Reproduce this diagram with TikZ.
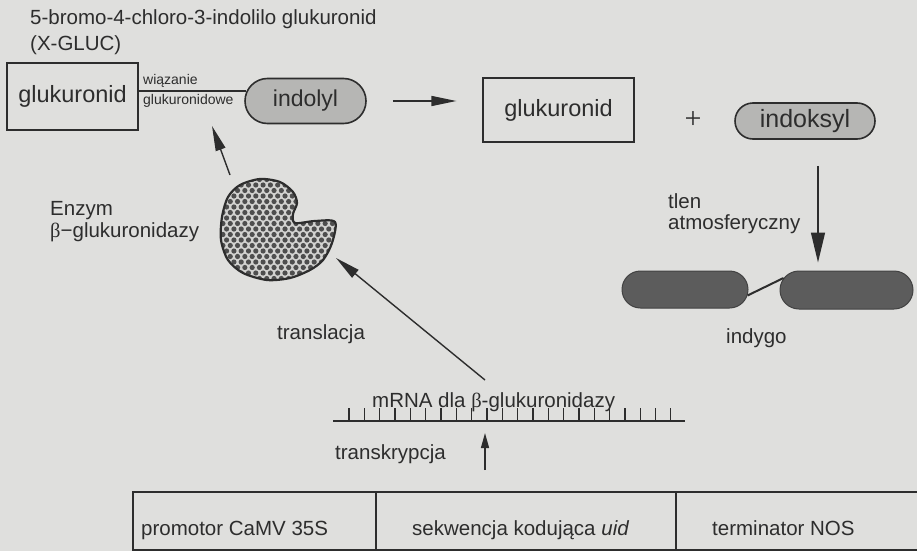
\documentclass[tikz,border=0pt]{standalone}
\usepackage{fontspec}
\setmainfont{Liberation Sans}
\newfontfamily\greekserif{Liberation Serif}
\usetikzlibrary{arrows.meta,shapes.misc,calc}

\definecolor{paper}{RGB}{223,223,221}
\definecolor{ink}{RGB}{45,45,45}
\definecolor{capsulefill}{RGB}{182,182,180}
\definecolor{indigofill}{RGB}{92,92,92}
\definecolor{enzymebg}{RGB}{210,210,208}
\definecolor{enzymeball}{RGB}{78,78,78}

\newcommand\betaglyph{{\greekserif β}}

\begin{document}
\begin{tikzpicture}[x=1pt,y=-1pt,
  every node/.style={text=ink, inner sep=0pt},
  lbl/.style={font=\fontsize{20.5}{24}\selectfont},
  small/.style={font=\fontsize{14}{16}\selectfont},
  boxlbl/.style={draw=ink, line width=1.2pt, font=\fontsize{23.5}{27}\selectfont},
  capsule/.style={rounded rectangle, draw=ink, line width=1.6pt, fill=capsulefill,
                  font=\fontsize{23}{27}\selectfont},
  indigo/.style={rounded rectangle, draw=ink!90, line width=1pt, fill=indigofill},
  cell/.style={draw=ink, line width=1.2pt, minimum height=58pt},
  arr/.style={draw=ink, line width=1.4pt, -{Triangle[length=25pt,width=10pt]}},
  arrdown/.style={draw=ink, line width=1.4pt, -{Triangle[length=30pt,width=14pt]}},
  arrsmall/.style={draw=ink, line width=1.4pt, -{Triangle[length=15pt,width=8pt]}},
  thinline/.style={draw=ink, line width=1.2pt}
]
\useasboundingbox (0,0) rectangle (917,551);
\fill[paper] (0,0) rectangle (917,551);
\clip (0,0) rectangle (917,551);

% substrate X-GLUC
\node[lbl, anchor=base west] (title) at (30,25) {5-bromo-4-chloro-3-indolilo glukuronid};
\node[lbl, anchor=base west] (xgluc) at (30,50) {(X-GLUC)};
\node[boxlbl, minimum width=131pt, minimum height=67pt] (glucA) at (72.5,96.5) {glukuronid};
\node[capsule, minimum width=121pt, minimum height=45pt] (indolyl) at (305.5,101) {indolyl};
\coordinate (bondrow) at (0,91);
\draw[thinline] (glucA.east |- bondrow) -- ($(indolyl.west |- bondrow)+(2,0)$);
\node[small, anchor=base west] (wiaz) at (143,84) {wiązanie};
\node[small, anchor=base west] (glucbond) at (143,104) {glukuronidowe};

% products of hydrolysis
\node[boxlbl, minimum width=151pt, minimum height=64pt] (glucB) at (558.5,110) {glukuronid};
\draw[arr, shorten <=26pt, shorten >=26pt] (indolyl.east) -- (indolyl.east -| glucB.west);
\node[font=\greekserif\fontsize{30}{30}\selectfont] (plus) at (693,120) {+};
\node[capsule, minimum width=140pt, minimum height=36pt, font=\fontsize{25}{28}\selectfont]
  (indoksyl) at (805,121) {indoksyl};

% oxidation to indigo dimer
\node[indigo, minimum width=126pt, minimum height=37pt] (indygoL) at (685,289.5) {};
\node[indigo, minimum width=133pt, minimum height=38pt] (indygoR) at (846.5,290) {};
\draw[ink, line width=2pt] ($(indygoL.east)+(-1,6)$) -- ($(indygoR.west)+(4,-12)$);
\coordinate (o2col) at (818,0);
\draw[arrdown, shorten <=26pt, shorten >=8pt] (indoksyl.south -| o2col) -- (indygoR.north -| o2col);
\node[lbl, anchor=base west] (tlen) at (668,208) {tlen};
\node[lbl, anchor=base west] (atm) at (668,229) {atmosferyczny};
\node[lbl, anchor=base west] (indygo) at (726,343) {indygo};

% enzyme
\begin{scope}
  \clip plot[smooth cycle, tension=0.5] coordinates {
    (297,203) (293,214) (295,223) (315,221) (335,222) (332,243) (323,260) (310,270)
    (290,278) (267,280) (243,273) (228,260) (221,240) (222,217) (228,197) (240,185)
    (260,179) (280,182) (293,192)};
  \fill[enzymebg] (210,170) rectangle (345,290);
  \foreach \j in {0,...,21} \foreach \i in {0,...,18} {
    \fill[enzymeball] ({212+7.3*\i+3.65*mod(\j,2)},{174+5.5*\j}) circle (2.6pt);
  }
\end{scope}
\draw[ink, line width=2.2pt] plot[smooth cycle, tension=0.5] coordinates {
    (297,203) (293,214) (295,223) (315,221) (335,222) (332,243) (323,260) (310,270)
    (290,278) (267,280) (243,273) (228,260) (221,240) (222,217) (228,197) (240,185)
    (260,179) (280,182) (293,192)};
\node[lbl, anchor=base west] (enzA) at (50,215) {Enzym};
\node[lbl, anchor=base west] (enzB) at (50,237) {\betaglyph−glukuronidazy};
\coordinate (enzTop) at (230,175);
\coordinate (bondHit) at (212,126);
\draw[arr] (enzTop) -- (bondHit);

% mRNA
\node[lbl, anchor=base west] (mrna) at (372,407) {mRNA dla \betaglyph-glukuronidazy};
\coordinate (mL) at (333,421);
\coordinate (mR) at (685,421);
\draw[ink, line width=1.3pt] (mL) -- (mR);
\foreach \k in {0,...,21} \draw[ink, line width=1.1pt] ({349+15.33*\k},421) -- ++(0,-13);
\coordinate (mrnaTop) at (485,380);
\coordinate (enzR) at (336,258);
\draw[arr] (mrnaTop) -- (enzR);
\node[lbl, anchor=base west] (transl) at (277,339) {translacja};

% transcription
\coordinate (txBase) at (485,470);
\coordinate (txTip) at (485,433);
\draw[arrsmall] (txBase) -- (txTip);
\node[lbl, anchor=base west] (transk) at (335,459) {transkrypcja};

% gene construct
\node[cell, minimum width=243pt] (promcell) at (254.5,521) {};
\node[cell, minimum width=300pt] (codcell) at (526,521) {};
\node[cell, minimum width=260pt] (termcell) at (806,521) {};
\node[lbl, anchor=base west] (promtxt) at (141,535) {promotor CaMV 35S};
\node[lbl, anchor=base west] (codtxt) at (412,535) {sekwencja kodująca \textit{uid}};
\node[lbl, anchor=base west] (termtxt) at (712,535) {terminator NOS};
\end{tikzpicture}
\end{document}
